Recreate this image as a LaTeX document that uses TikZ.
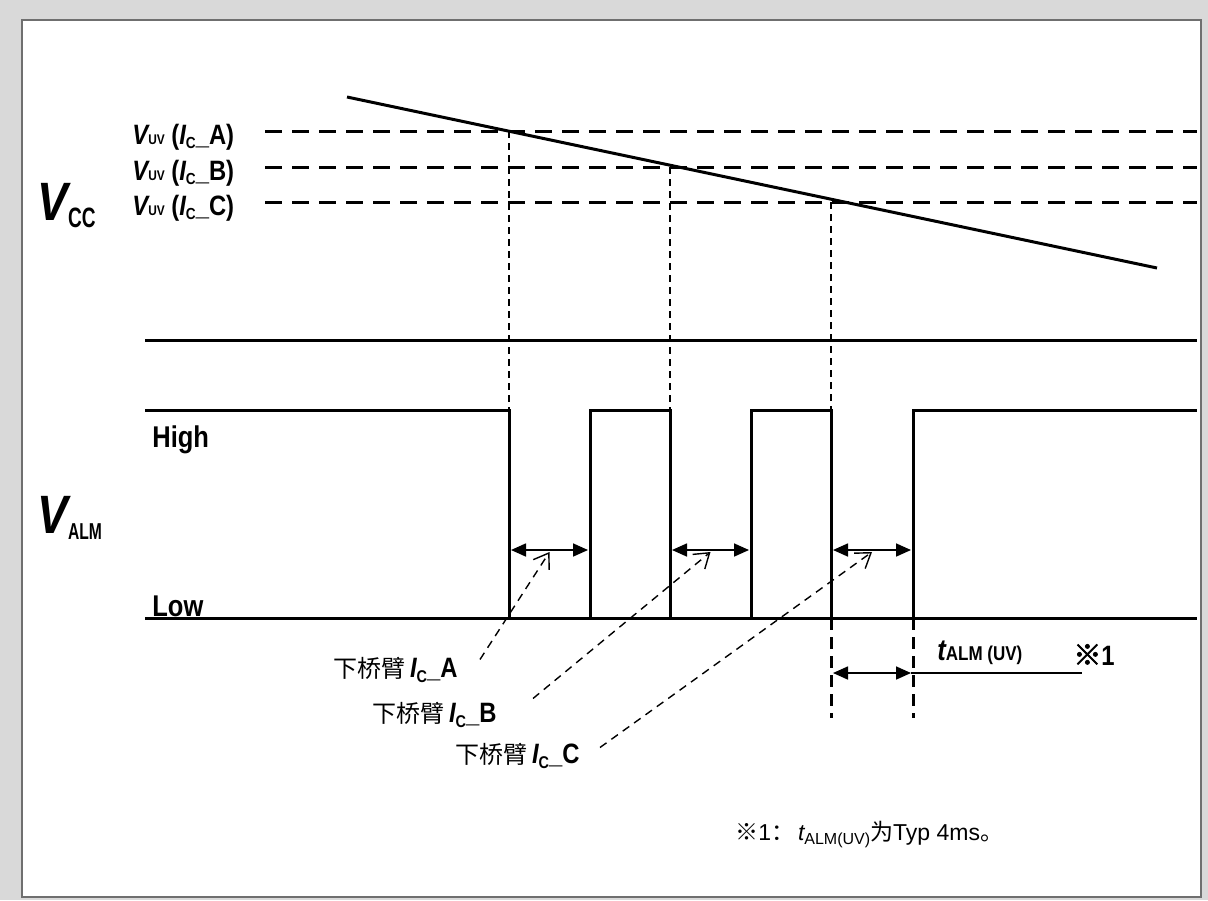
\documentclass[tikz,border=0pt]{standalone}
\usepackage{fontspec}
\usepackage{graphicx}
\setmainfont{Liberation Sans}
\newfontfamily\cond{Liberation Sans}[FakeStretch=0.85]
\newfontfamily\cjk{Noto Sans CJK SC}
\newfontfamily\cjkheavy{Noto Sans CJK SC}[FakeBold=2.5]
\usetikzlibrary{arrows.meta}
\usetikzlibrary{calc}
\usetikzlibrary{positioning}
\usepackage{xcolor}
\definecolor{bggray}{HTML}{D9D9D9}
\definecolor{rimgray}{HTML}{6F6F6F}

\newcommand\fs[1]{\fontsize{#1}{#1}\selectfont}
\newcommand\dropped[3]{\raisebox{-#2}{\fs{#1}#3}}
\newcommand\narrowsub[3]{\raisebox{-#2}{\scalebox{0.8}[1]{\fs{#1}#3}}}

\tikzset{
  sig/.style={line width=1.5pt},
  level/.style={line width=1.5pt, dash pattern=on 8.5pt off 5pt},
  guide/.style={line width=0.7pt, dash pattern=on 3.5pt off 2.5pt},
  tick/.style={line width=1.5pt, dash pattern=on 6pt off 3.5pt},
  span/.style={line width=0.85pt, {Triangle[length=7.5pt,width=6.5pt]}-{Triangle[length=7.5pt,width=6.5pt]}},
  leader/.style={line width=0.7pt, dash pattern=on 4pt off 3pt, -{Straight Barb[length=7pt,width=9.5pt]}},
  lbl/.style={inner sep=0pt, font=\cond\bfseries},
}

\begin{document}
\begin{tikzpicture}[x=0.5pt,y=-0.5pt]

      % Frame
      \useasboundingbox (0,0) rectangle (1208,900);
      \fill[bggray] (0,0) rectangle (1208,900);
      \draw[rimgray, fill=white, line width=0.8pt] (22,20) rectangle (1201,897);

      % Vcc slope
      \coordinate (vs) at (347,97);
      \coordinate (ve) at (1157,268);
      \draw[sig] (vs) -- (ve);
      \node[lbl, anchor=base west] (vcc) at (37,220)
        {\fs{27pt}\itshape V\upshape\narrowsub{14pt}{3.5pt}{CC}};

      % UV thresholds
      \foreach \n/\y in {A/131,B/167,C/202}
      {
        \node[lbl, anchor=base west] (uv\n) at (132,\y+13)
          {\fs{14pt}{\itshape V}{\fs{7pt}UV} ({\itshape I}\dropped{8pt}{2pt}{C}\_\n)};
        \coordinate (lv\n) at (265,\y);
        \coordinate (rv\n) at (1197,\y);
        \draw[level] (lv\n) -- (rv\n);
      }

      % Guides down to the alarm signal
      \foreach \n/\x/\y in {A/509/131,B/670/167,C/831/202}
      {
        \coordinate (gt\n) at (\x,\y);
        \coordinate (gb\n) at (\x,410);
        \draw[guide] (gt\n) -- (gb\n);
      }

      % Supply line and low level
      \draw[sig] (145,340) -- (1197,340);
      \draw[sig] (145,618) -- (1197,618);

      % Alarm signal
      \draw[sig] (145,410) -- (509,410) -- (509,618)
        (590,618) -- (590,410) -- (670,410) -- (670,618)
        (751,618) -- (751,410) -- (831,410) -- (831,618)
        (913,618) -- (913,410) -- (1197,410);
      \node[lbl, anchor=base west] (valm) at (37,533)
        {\fs{27pt}\itshape V\upshape\narrowsub{11.5pt}{3pt}{ALM}};
      \node[lbl, anchor=base west] (high) at (152,447) {\fs{15pt}High};
      \node[lbl, anchor=base west] (low) at (152,616) {\fs{15pt}Low};

      % Alarm widths
      \foreach \n/\a/\b in {A/509/590,B/670/751,C/831/913}
      {
        \coordinate (wl\n) at (\a+2,550);
        \coordinate (wr\n) at (\b-2,550);
        \draw[span] (wl\n) -- (wr\n);
        \coordinate (tip\n) at ($(wl\n)!0.5!(wr\n)+(0,2)$);
      }

      % Lower arm labels
      \node[lbl, anchor=base west] (armA) at (333,677)
        {{\cjk\mdseries\fs{12pt}下桥臂} \fs{14pt}{\itshape I}\dropped{8.5pt}{2.5pt}{C}\_A};
      \node[lbl, anchor=base west] (armB) at (372,722)
        {{\cjk\mdseries\fs{12pt}下桥臂} \fs{14pt}{\itshape I}\dropped{8.5pt}{2.5pt}{C}\_B};
      \node[lbl, anchor=base west] (armC) at (455,763)
        {{\cjk\mdseries\fs{12pt}下桥臂} \fs{14pt}{\itshape I}\dropped{8.5pt}{2.5pt}{C}\_C};
      \draw[leader] ($(armA.east)+(22,-10)$) -- (tipA);
      \draw[leader] ($(armB.east)+(36,-16)$) -- (tipB);
      \draw[leader] ($(armC.east)+(20,-8)$) -- (tipC);

      % Alarm time
      \coordinate (ta) at (831,618);
      \coordinate (tb) at (913,618);
      \coordinate (tc) at (831,718);
      \coordinate (td) at (913,718);
      \draw[tick] (ta) -- (tc);
      \draw[tick] (tb) -- (td);
      \coordinate (sa) at (833,673);
      \coordinate (sb) at (911,673);
      \coordinate (se) at (1082,673);
      \draw[span] (sa) -- (sb);
      \draw[line width=0.6pt] (sb) -- (se);
      \node[lbl, anchor=base west] (talm) at (937,660)
        {\fs{15pt}{\itshape t}\fs{10pt}ALM (UV)};
      \node[lbl, anchor=base west] (mark) at (1073,665)
        {{\cjkheavy\fs{14pt}※}\fs{14pt}1};

      % Note
      \node[anchor=base west, inner sep=0pt] (note) at (735,840)
        {\fs{11.5pt}{\cjk ※}1{\cjk ：}\,{\itshape t}\raisebox{-2pt}{\fs{8pt}ALM(UV)}{\cjk 为}Typ 4ms{\cjk 。}};

\end{tikzpicture}
\end{document}
